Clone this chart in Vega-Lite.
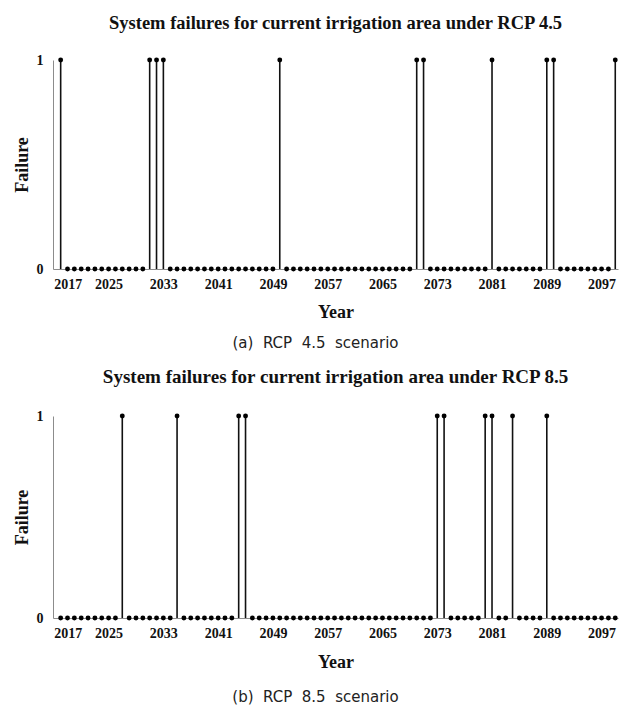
{
  "$schema": "https://vega.github.io/schema/vega-lite/v6.json",
  "background": "white",
  "padding": {"left": 13, "top": 13, "right": 18, "bottom": 2},
  "spacing": 17,
  "config": {
    "view": {"stroke": null},
    "axis": {"domainColor": "#8c8c8c", "domainWidth": 1, "grid": false, "ticks": false,
      "labelFont": "Liberation Serif", "labelFontWeight": "bold", "labelFontSize": 14, "labelColor": "#111",
      "titleFont": "Liberation Serif", "titleFontWeight": "bold", "titleFontSize": 18, "titleColor": "#111"},
    "title": {"font": "Liberation Serif", "fontWeight": "bold", "fontSize": 18.5, "color": "#111", "anchor": "middle"}
  },
  "datasets": {
    "a": [
      {"Year": 2018, "Failure": 1}, {"Year": 2019, "Failure": 0}, {"Year": 2020, "Failure": 0}, {"Year": 2021, "Failure": 0},
      {"Year": 2022, "Failure": 0}, {"Year": 2023, "Failure": 0}, {"Year": 2024, "Failure": 0}, {"Year": 2025, "Failure": 0},
      {"Year": 2026, "Failure": 0}, {"Year": 2027, "Failure": 0}, {"Year": 2028, "Failure": 0}, {"Year": 2029, "Failure": 0},
      {"Year": 2030, "Failure": 0}, {"Year": 2031, "Failure": 1}, {"Year": 2032, "Failure": 1}, {"Year": 2033, "Failure": 1},
      {"Year": 2034, "Failure": 0}, {"Year": 2035, "Failure": 0}, {"Year": 2036, "Failure": 0}, {"Year": 2037, "Failure": 0},
      {"Year": 2038, "Failure": 0}, {"Year": 2039, "Failure": 0}, {"Year": 2040, "Failure": 0}, {"Year": 2041, "Failure": 0},
      {"Year": 2042, "Failure": 0}, {"Year": 2043, "Failure": 0}, {"Year": 2044, "Failure": 0}, {"Year": 2045, "Failure": 0},
      {"Year": 2046, "Failure": 0}, {"Year": 2047, "Failure": 0}, {"Year": 2048, "Failure": 0}, {"Year": 2049, "Failure": 0},
      {"Year": 2050, "Failure": 1}, {"Year": 2051, "Failure": 0}, {"Year": 2052, "Failure": 0}, {"Year": 2053, "Failure": 0},
      {"Year": 2054, "Failure": 0}, {"Year": 2055, "Failure": 0}, {"Year": 2056, "Failure": 0}, {"Year": 2057, "Failure": 0},
      {"Year": 2058, "Failure": 0}, {"Year": 2059, "Failure": 0}, {"Year": 2060, "Failure": 0}, {"Year": 2061, "Failure": 0},
      {"Year": 2062, "Failure": 0}, {"Year": 2063, "Failure": 0}, {"Year": 2064, "Failure": 0}, {"Year": 2065, "Failure": 0},
      {"Year": 2066, "Failure": 0}, {"Year": 2067, "Failure": 0}, {"Year": 2068, "Failure": 0}, {"Year": 2069, "Failure": 0},
      {"Year": 2070, "Failure": 1}, {"Year": 2071, "Failure": 1}, {"Year": 2072, "Failure": 0}, {"Year": 2073, "Failure": 0},
      {"Year": 2074, "Failure": 0}, {"Year": 2075, "Failure": 0}, {"Year": 2076, "Failure": 0}, {"Year": 2077, "Failure": 0},
      {"Year": 2078, "Failure": 0}, {"Year": 2079, "Failure": 0}, {"Year": 2080, "Failure": 0}, {"Year": 2081, "Failure": 1},
      {"Year": 2082, "Failure": 0}, {"Year": 2083, "Failure": 0}, {"Year": 2084, "Failure": 0}, {"Year": 2085, "Failure": 0},
      {"Year": 2086, "Failure": 0}, {"Year": 2087, "Failure": 0}, {"Year": 2088, "Failure": 0}, {"Year": 2089, "Failure": 1},
      {"Year": 2090, "Failure": 1}, {"Year": 2091, "Failure": 0}, {"Year": 2092, "Failure": 0}, {"Year": 2093, "Failure": 0},
      {"Year": 2094, "Failure": 0}, {"Year": 2095, "Failure": 0}, {"Year": 2096, "Failure": 0}, {"Year": 2097, "Failure": 0},
      {"Year": 2098, "Failure": 0}, {"Year": 2099, "Failure": 1}
    ],
    "b": [
      {"Year": 2018, "Failure": 0}, {"Year": 2019, "Failure": 0}, {"Year": 2020, "Failure": 0}, {"Year": 2021, "Failure": 0},
      {"Year": 2022, "Failure": 0}, {"Year": 2023, "Failure": 0}, {"Year": 2024, "Failure": 0}, {"Year": 2025, "Failure": 0},
      {"Year": 2026, "Failure": 0}, {"Year": 2027, "Failure": 1}, {"Year": 2028, "Failure": 0}, {"Year": 2029, "Failure": 0},
      {"Year": 2030, "Failure": 0}, {"Year": 2031, "Failure": 0}, {"Year": 2032, "Failure": 0}, {"Year": 2033, "Failure": 0},
      {"Year": 2034, "Failure": 0}, {"Year": 2035, "Failure": 1}, {"Year": 2036, "Failure": 0}, {"Year": 2037, "Failure": 0},
      {"Year": 2038, "Failure": 0}, {"Year": 2039, "Failure": 0}, {"Year": 2040, "Failure": 0}, {"Year": 2041, "Failure": 0},
      {"Year": 2042, "Failure": 0}, {"Year": 2043, "Failure": 0}, {"Year": 2044, "Failure": 1}, {"Year": 2045, "Failure": 1},
      {"Year": 2046, "Failure": 0}, {"Year": 2047, "Failure": 0}, {"Year": 2048, "Failure": 0}, {"Year": 2049, "Failure": 0},
      {"Year": 2050, "Failure": 0}, {"Year": 2051, "Failure": 0}, {"Year": 2052, "Failure": 0}, {"Year": 2053, "Failure": 0},
      {"Year": 2054, "Failure": 0}, {"Year": 2055, "Failure": 0}, {"Year": 2056, "Failure": 0}, {"Year": 2057, "Failure": 0},
      {"Year": 2058, "Failure": 0}, {"Year": 2059, "Failure": 0}, {"Year": 2060, "Failure": 0}, {"Year": 2061, "Failure": 0},
      {"Year": 2062, "Failure": 0}, {"Year": 2063, "Failure": 0}, {"Year": 2064, "Failure": 0}, {"Year": 2065, "Failure": 0},
      {"Year": 2066, "Failure": 0}, {"Year": 2067, "Failure": 0}, {"Year": 2068, "Failure": 0}, {"Year": 2069, "Failure": 0},
      {"Year": 2070, "Failure": 0}, {"Year": 2071, "Failure": 0}, {"Year": 2072, "Failure": 0}, {"Year": 2073, "Failure": 1},
      {"Year": 2074, "Failure": 1}, {"Year": 2075, "Failure": 0}, {"Year": 2076, "Failure": 0}, {"Year": 2077, "Failure": 0},
      {"Year": 2078, "Failure": 0}, {"Year": 2079, "Failure": 0}, {"Year": 2080, "Failure": 1}, {"Year": 2081, "Failure": 1},
      {"Year": 2082, "Failure": 0}, {"Year": 2083, "Failure": 0}, {"Year": 2084, "Failure": 1}, {"Year": 2085, "Failure": 0},
      {"Year": 2086, "Failure": 0}, {"Year": 2087, "Failure": 0}, {"Year": 2088, "Failure": 0}, {"Year": 2089, "Failure": 1},
      {"Year": 2090, "Failure": 0}, {"Year": 2091, "Failure": 0}, {"Year": 2092, "Failure": 0}, {"Year": 2093, "Failure": 0},
      {"Year": 2094, "Failure": 0}, {"Year": 2095, "Failure": 0}, {"Year": 2096, "Failure": 0}, {"Year": 2097, "Failure": 0},
      {"Year": 2098, "Failure": 0}, {"Year": 2099, "Failure": 0}
    ]
  },
  "vconcat": [
    {
      "title": {"text": "(a)\u00a0 RCP\u00a0 4.5\u00a0 scenario", "orient": "bottom", "font": "DejaVu Sans", "fontWeight": "normal", "fontSize": 15, "color": "#222", "offset": 15},
      "vconcat": [
        {
          "title": {"text": "System failures for current irrigation area under RCP 4.5", "offset": 21},
          "width": 565,
          "height": 209,
          "data": {"name": "a"},
          "encoding": {
            "x": {"field": "Year", "type": "quantitative", "scale": {"domain": [2016.88, 2099.4], "nice": false, "zero": false},
              "axis": {"values": [2017, 2025, 2033, 2041, 2049, 2057, 2065, 2073, 2081, 2089, 2097], "format": "d", "labelFont": "Liberation Serif", "labelFontWeight": "bold", "labelFontSize": 14, "labelPadding": 8, "titlePadding": 12, "title": "Year"}},
            "y": {"field": "Failure", "type": "quantitative", "scale": {"domain": [0, 1], "nice": false},
              "axis": {"values": [0, 1], "format": "d", "labelFont": "Liberation Serif", "labelFontWeight": "bold", "labelFontSize": 14, "labelPadding": 10, "titlePadding": 5, "title": "Failure"}}
          },
          "layer": [
            {"mark": {"type": "rule", "color": "#111", "strokeWidth": 1.6}, "encoding": {"y2": {"datum": 0}}},
            {"mark": {"type": "point", "filled": true, "color": "#000", "size": 24, "opacity": 1}}
          ]
        }
      ]
    },
    {
      "title": {"text": "(b)\u00a0 RCP\u00a0 8.5\u00a0 scenario", "orient": "bottom", "font": "DejaVu Sans", "fontWeight": "normal", "fontSize": 15, "color": "#222", "offset": 19},
      "vconcat": [
        {
          "title": {"text": "System failures for current irrigation area under RCP 8.5", "offset": 22, "fontSize": 19},
          "width": 565,
          "height": 202,
          "data": {"name": "b"},
          "encoding": {
            "x": {"field": "Year", "type": "quantitative", "scale": {"domain": [2016.88, 2099.4], "nice": false, "zero": false},
              "axis": {"values": [2017, 2025, 2033, 2041, 2049, 2057, 2065, 2073, 2081, 2089, 2097], "format": "d", "labelFont": "Liberation Serif", "labelFontWeight": "bold", "labelFontSize": 14, "labelPadding": 8, "titlePadding": 13, "title": "Year"}},
            "y": {"field": "Failure", "type": "quantitative", "scale": {"domain": [0, 1], "nice": false},
              "axis": {"values": [0, 1], "format": "d", "labelFont": "Liberation Serif", "labelFontWeight": "bold", "labelFontSize": 14, "labelPadding": 10, "titlePadding": 5, "title": "Failure"}}
          },
          "layer": [
            {"mark": {"type": "rule", "color": "#111", "strokeWidth": 1.6}, "encoding": {"y2": {"datum": 0}}},
            {"mark": {"type": "point", "filled": true, "color": "#000", "size": 24, "opacity": 1}}
          ]
        }
      ]
    }
  ]
}
